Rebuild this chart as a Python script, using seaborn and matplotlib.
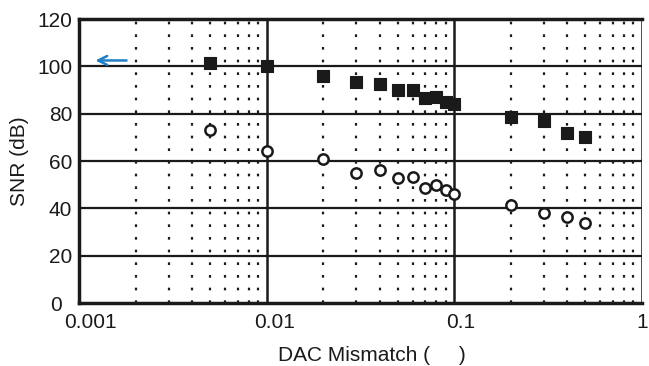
import numpy as np
import pandas as pd
import seaborn as sns
import matplotlib
matplotlib.use("Agg")
import matplotlib.pyplot as plt
import matplotlib.transforms as mtransforms
from matplotlib.ticker import FixedLocator, NullFormatter

mismatch = [0.005, 0.01, 0.02, 0.03, 0.04, 0.05, 0.06, 0.07, 0.08, 0.09, 0.1, 0.2, 0.3, 0.4, 0.5]
snr_square = [101.4, 100.1, 96.0, 93.4, 92.5, 90.0, 90.0, 86.6, 87.0, 85.0, 84.0, 78.6, 76.9, 71.8, 70.1]
snr_circle = [73.0, 64.2, 60.8, 54.9, 56.2, 52.8, 53.2, 48.6, 49.9, 47.7, 46.0, 41.4, 38.0, 36.3, 33.8]

x_ticks = [0.001, 0.01, 0.1, 1]
x_labels = ["0.001", "0.01", "0.1", "1"]
y_ticks = [0, 20, 40, 60, 80, 100, 120]

sns.set_style("white")
plt.rcParams["font.family"] = ["Liberation Sans", "DejaVu Sans"]

df = pd.DataFrame({"mismatch": mismatch, "square": snr_square, "circle": snr_circle})

fig = plt.figure(figsize=(6.49, 3.66), dpi=100)
ax = fig.add_axes([0.122, 0.172, 0.867, 0.776])
ax.set_xscale("log")

# grid lines
ax.set_xlim(0.001, 1)
ax.set_ylim(0, 120)
for yv in y_ticks[1:-1]:
    ax.axhline(yv, color="#1a1a1a", lw=1.6, zorder=1)
for xv in x_ticks[1:]:
    ax.axvline(xv, color="#1a1a1a", lw=1.8, zorder=1)
for dec in [0.001, 0.01, 0.1]:
    for m in range(2, 10):
        ax.axvline(dec * m, color="#1a1a1a", lw=1.6, ls=(0, (1.2, 4.5)), zorder=1)

sns.scatterplot(data=df, x="mismatch", y="square", marker="s", s=82, color="#1a1a1a",
                edgecolor="#1a1a1a", linewidth=0.8, ax=ax, zorder=3)
sns.scatterplot(data=df, x="mismatch", y="circle", marker="o", s=55, facecolor="white",
                edgecolor="#1a1a1a", linewidth=1.8, ax=ax, zorder=3)

ax.annotate("", xy=(0.00118, 102.5), xytext=(0.00185, 102.5),
            arrowprops=dict(arrowstyle="->", color="#1f7fc8", lw=1.8, mutation_scale=16))

ax.xaxis.set_major_locator(FixedLocator(x_ticks))
ax.set_xticklabels(x_labels)
ax.xaxis.set_minor_formatter(NullFormatter())
ax.set_yticks(y_ticks)
ax.tick_params(axis="both", length=0, labelsize=15, colors="#1a1a1a")
ax.tick_params(axis="x", which="major", pad=7)
ax.tick_params(axis="y", pad=5)
ax.tick_params(axis="x", which="minor", length=0)

# x tick labels sit a bit right of their lines in the reference
for lab, px in zip(ax.get_xticklabels(), [11, 8, 6, 0]):
    shift = mtransforms.ScaledTranslation(px / 100, 0, fig.dpi_scale_trans)
    lab.set_transform(lab.get_transform() + shift)
zero_shift = mtransforms.ScaledTranslation(-10 / 100, 0, fig.dpi_scale_trans)
ylabs = ax.get_yticklabels()
ylabs[0].set_transform(ylabs[0].get_transform() + zero_shift)

for side in ["left", "bottom", "top"]:
    ax.spines[side].set_linewidth(2.5)
    ax.spines[side].set_color("#1a1a1a")
ax.spines["right"].set_visible(False)

ax.set_xlabel("DAC Mismatch (     )", fontsize=15, color="#1a1a1a", labelpad=6)
ax.xaxis.set_label_coords(0.52, -0.15)
ax.set_ylabel("SNR (dB)", fontsize=15, color="#1a1a1a", labelpad=6)

fig.savefig("out.png", dpi=100)
